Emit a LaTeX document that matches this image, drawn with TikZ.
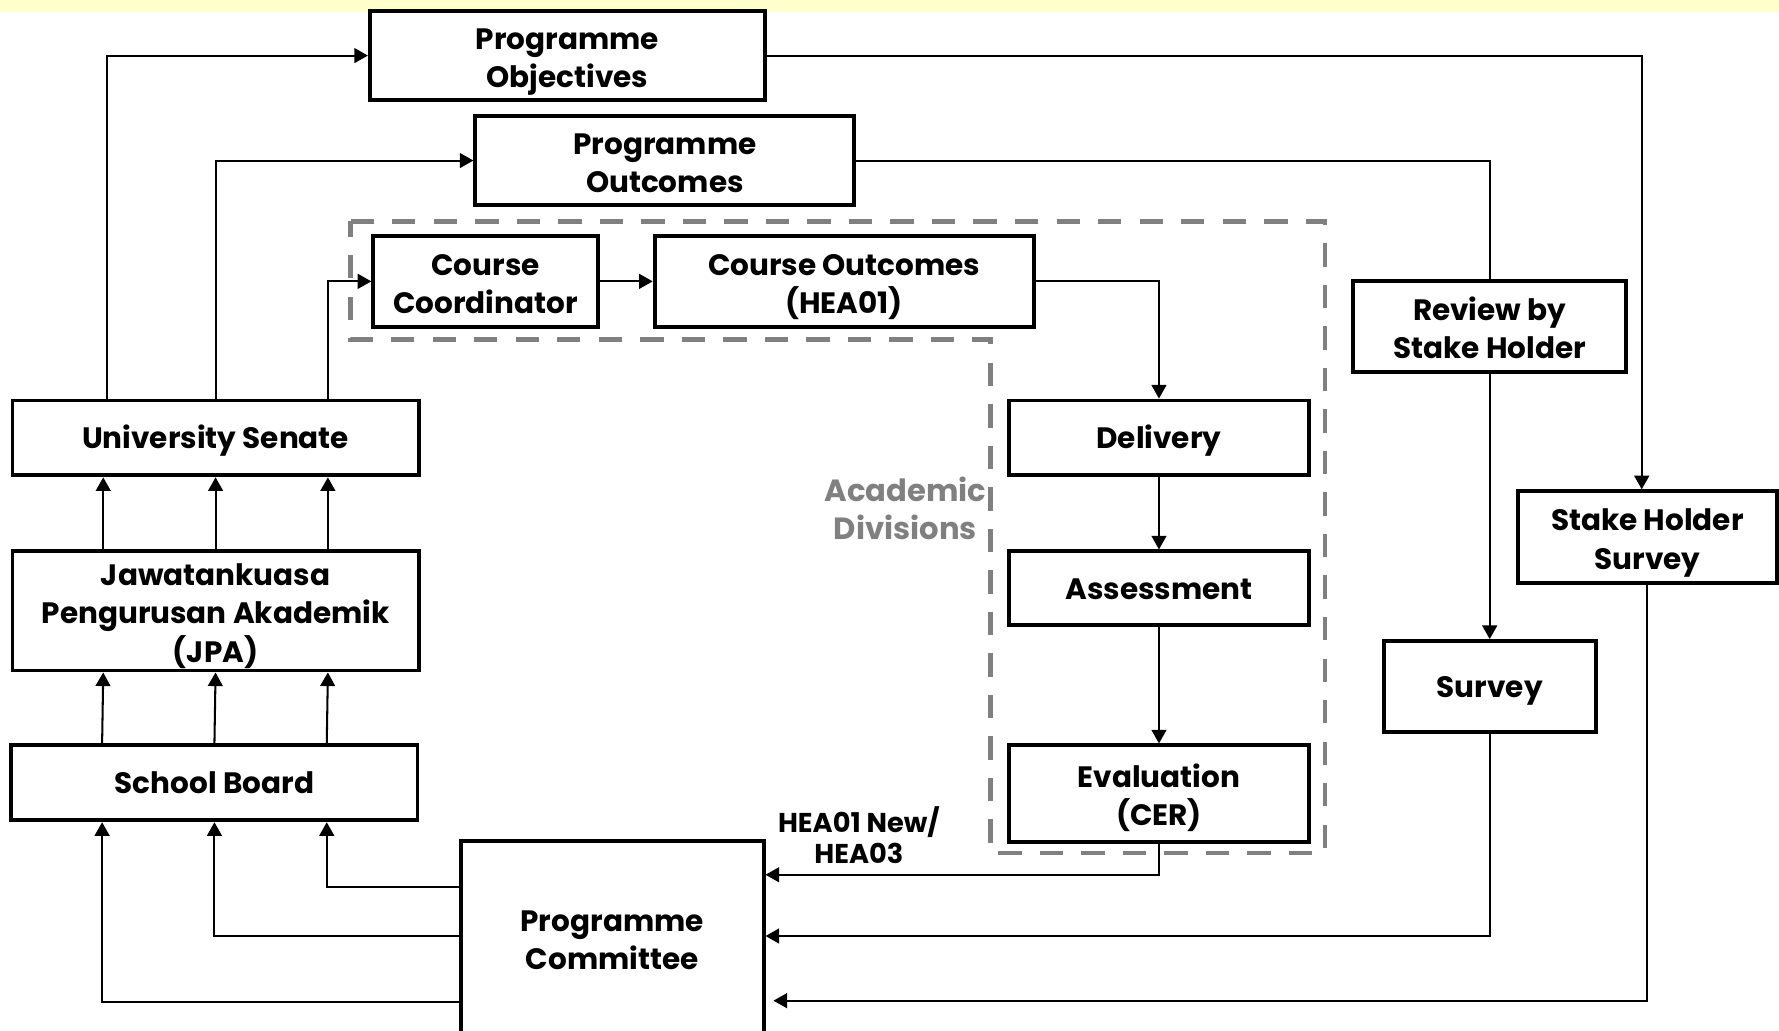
\documentclass[tikz,border=0pt]{standalone}
\usepackage{fontspec}
\setmainfont{Poppins}
\usepackage{tikz}
\usetikzlibrary{arrows.meta, positioning, calc}
\definecolor{zonegray}{RGB}{128,128,128}
\definecolor{banner}{RGB}{255,255,204}
\tikzstyle{unit} = [
    rectangle, draw=black, line width=1.7pt, inner sep=0pt,
    align=center, font=\bfseries\fontsize{13}{17}\selectfont,
    text height=28.4pt, text depth=0pt
]
\tikzstyle{oneline} = [unit, text height=9.5pt]
\tikzstyle{threeline} = [unit, text height=45.4pt]
\tikzstyle{arrow} = [-{Triangle[length=6pt, width=6.5pt]}, line width=0.9pt, draw=black]
\tikzstyle{link} = [line width=0.9pt, draw=black]
\tikzstyle{zone} = [draw=zonegray, line width=2pt, dash pattern=on 10.3pt off 8pt]
\tikzstyle{note} = [align=center, inner sep=0pt, font=\bfseries\fontsize{12}{14}\selectfont]

\begin{document}
\begin{tikzpicture}[x=0.5pt, y=-0.5pt]
        \useasboundingbox (0,0) rectangle (1568,908);
        \fill[banner] (0,0) rectangle (1568,11);

        % Academic divisions region
        \draw[zone] (309,195) -- (1168,195) -- (1168,752) -- (873,752)
            -- (873,299) -- (309,299) -- cycle;
        \node[note, text=zonegray, font=\bfseries\fontsize{13.5}{17}\selectfont]
            (acad) at (798,448) {Academic\\Divisions};

        \node[unit, minimum width=174pt, minimum height=39pt] (obj)
            at (500,49) {Programme\\Objectives};
        \node[unit, minimum width=167pt, minimum height=39.5pt] (pout)
            at (586,141.5) {Programme\\Outcomes};
        \node[unit, minimum width=99pt, minimum height=40pt] (coord)
            at (428,248) {Course\\Coordinator};
        \node[unit, minimum width=167pt, minimum height=40pt] (cout)
            at (744,248) {Course Outcomes\\(HEA01)};
        \node[oneline, minimum width=179pt, minimum height=33pt] (senate)
            at (190,386) {University Senate};
        \node[threeline, minimum width=179pt, minimum height=52.5pt] (jpa)
            at (190,538.5) {Jawatankuasa\\Pengurusan Akademik\\(JPA)};
        \node[oneline, minimum width=179pt, minimum height=33pt] (board)
            at (189,690) {School Board};
        \node[oneline, minimum width=132.5pt, minimum height=33pt] (deliv)
            at (1021.5,386) {Delivery};
        \node[oneline, minimum width=132.5pt, minimum height=32.5pt] (assess)
            at (1021.5,518.5) {Assessment};
        \node[unit, minimum width=132.5pt, minimum height=42.5pt] (eval)
            at (1021.5,699.5) {Evaluation\\(CER)};
        \node[unit, minimum width=133.5pt, minimum height=85pt] (comm)
            at (539.5,826.5) {Programme\\Committee};
        \node[unit, minimum width=120.5pt, minimum height=40pt] (review)
            at (1313,288) {Review by\\Stake Holder};
        \node[unit, minimum width=114pt, minimum height=40.5pt] (shsurvey)
            at (1452,473.5) {Stake Holder\\Survey};
        \node[oneline, minimum width=93.5pt, minimum height=40pt] (survey)
            at (1313,605) {Survey};

        \draw[arrow] ([xshift=-48pt]senate.north) |- (obj.west);
        \draw[arrow] (senate.north) |- (pout.west);
        \draw[arrow] ([xshift=49.5pt]senate.north) |- (coord.west);
        \draw[arrow] (coord) -- (cout);
        \draw[arrow] (cout.east) -| (deliv.north);
        \draw[arrow] (deliv) -- (assess);
        \draw[arrow] (assess) -- (eval);
        \draw[arrow] (eval.south) |- ([yshift=27.75pt]comm.east);

        \draw[arrow] ([xshift=-49.5pt]jpa.north) -- ([xshift=-49.5pt]senate.south);
        \draw[arrow] (jpa.north) -- (senate.south);
        \draw[arrow] ([xshift=49.5pt]jpa.north) -- ([xshift=49.5pt]senate.south);
        \draw[arrow] ([xshift=-49.5pt]board.north) -- ([xshift=-49.5pt]jpa.south);
        \draw[arrow] (board.north) -- (jpa.south);
        \draw[arrow] ([xshift=49.5pt]board.north) -- ([xshift=49.5pt]jpa.south);

        \draw[arrow] ([yshift=22.25pt]comm.west) -| ([xshift=49.5pt]board.south);
        \draw[arrow] ([yshift=0.75pt]comm.west) -| (board.south);
        \draw[arrow] ([yshift=-28.25pt]comm.west) -| ([xshift=-49.5pt]board.south);

        \draw[arrow] (obj.east) -| ([xshift=-2.5pt]shsurvey.north);
        \draw[link] (pout.east) -| (review.north);
        \draw[arrow] (review) -- (survey);
        \draw[arrow] (survey.south) |- ([yshift=0.75pt]comm.east);
        \draw[arrow, shorten >=3.5pt] (shsurvey.south) |- ([yshift=-27.75pt]comm.east);

        % Annotations
        \node[note] (hea) at (757,736) {HEA01 New/\\HEA03};
    \end{tikzpicture}
\end{document}
